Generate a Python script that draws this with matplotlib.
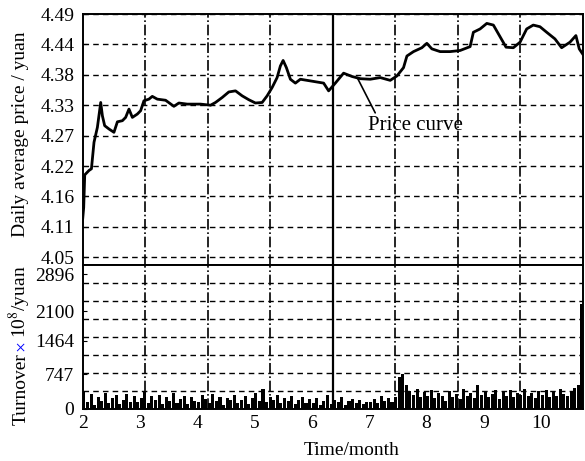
import matplotlib
matplotlib.use("Agg")
import matplotlib.pyplot as plt
import numpy as np
from matplotlib.ticker import FixedLocator, FixedFormatter

plt.rcParams['font.family'] = ['Liberation Serif', 'DejaVu Serif']
plt.rcParams['mathtext.fontset'] = 'stix'

# daily average price (month, yuan)
month = [2.0, 2.017, 2.035, 2.110, 2.152, 2.197, 2.256, 2.314, 2.343, 2.383, 2.458, 2.545,
         2.605, 2.692, 2.749, 2.807, 2.866, 2.953, 3.010, 3.068, 3.155, 3.214, 3.301,
         3.446, 3.591, 3.678, 3.824, 4.056, 4.230, 4.317, 4.434, 4.549, 4.666, 4.782,
         4.897, 5.014, 5.131, 5.218, 5.305, 5.392, 5.449, 5.497, 5.554, 5.624, 5.711,
         5.798, 5.972, 6.204, 6.291, 6.408, 6.552, 6.699, 6.843, 7.017, 7.192, 7.366,
         7.483, 7.598, 7.657, 7.772, 7.918, 8.005, 8.092, 8.237, 8.411, 8.585, 8.760,
         8.817, 8.934, 9.051, 9.166, 9.282, 9.387, 9.514, 9.631, 9.747, 9.862, 9.979,
         10.096, 10.240, 10.357, 10.502, 10.606, 10.664, 10.728]
price = [4.12, 4.14, 4.199, 4.207, 4.21, 4.258, 4.285, 4.330, 4.306, 4.288, 4.282, 4.276,
         4.295, 4.297, 4.303, 4.318, 4.303, 4.309, 4.315, 4.333, 4.336, 4.341, 4.336,
         4.334, 4.323, 4.329, 4.327, 4.327, 4.325, 4.330, 4.339, 4.349, 4.351, 4.342,
         4.335, 4.329, 4.330, 4.342, 4.357, 4.375, 4.396, 4.406, 4.393, 4.372, 4.365,
         4.372, 4.369, 4.365, 4.351, 4.365, 4.383, 4.377, 4.373, 4.372, 4.375, 4.370,
         4.378, 4.393, 4.414, 4.422, 4.429, 4.437, 4.427, 4.422, 4.422, 4.424, 4.431,
         4.457, 4.463, 4.473, 4.470, 4.449, 4.430, 4.429, 4.439, 4.463, 4.470, 4.467,
         4.457, 4.445, 4.429, 4.439, 4.451, 4.427, 4.417]

# daily turnover, 10^8 yuan
turnover = [380, 150, 320, 90, 260, 180, 350, 120, 240, 300, 110, 200, 330, 160, 270, 140,
            230, 360, 120, 280, 190, 310, 100, 250, 170, 340, 130, 220, 290, 110, 260, 180,
            150, 300, 210, 120, 330, 170, 260, 90, 240, 190, 310, 130, 200, 280, 110, 230,
            350, 180, 420, 140, 260, 200, 310, 120, 230, 170, 280, 100, 190, 250, 130, 210,
            120, 240, 90, 180, 300, 110, 200, 150, 260, 80, 170, 220, 130, 190, 100, 160,
            140, 210, 120, 280, 170, 230, 160, 260, 680, 750, 520, 380, 300, 420, 250, 360,
            290, 410, 230, 350, 270, 180, 390, 260, 320, 210, 440, 280, 350, 240, 520, 300,
            380, 260, 330, 410, 220, 360, 290, 400, 250, 340, 300, 420, 270, 350, 230, 380,
            310, 400, 260, 360, 290, 420, 330, 270, 390, 450, 520, 2250]
t_month = np.linspace(2.02, 10.71, len(turnover))

price_ticks = [4.05, 4.105, 4.16, 4.215, 4.27, 4.325, 4.38, 4.435, 4.49]
price_labels = ['4.05', '4.11', '4.16', '4.22', '4.27', '4.33', '4.38', '4.44', '4.49']
turn_ticks = [0, 747, 1464, 2100, 2896]
month_ticks = [2, 3, 4, 5, 6, 7, 8, 9, 10]

xmin, xmax = 2.0, 10.73
tmax = 3100

fig = plt.figure(figsize=(5.85, 4.61), dpi=100)
L, W = 0.1414, 0.8552
ax1 = fig.add_axes([L, 0.4252, W, 0.5444])
ax2 = fig.add_axes([L, 0.1128, W, 0.3124], sharex=ax1)

vgrid = np.linspace(xmin, xmax, 9)[1:-1]

ax1.plot(month, price, color='black', lw=2.0)
ax1.set_ylim(4.036, 4.49)
ax1.set_xlim(xmin, xmax)
ax1.yaxis.set_major_locator(FixedLocator(price_ticks))
ax1.yaxis.set_major_formatter(FixedFormatter(price_labels))
ax1.grid(axis='y', color='black', ls=(0, (4, 3)), lw=1.0)
ax1.set_ylabel('Daily average price / yuan', fontsize=14)
ax1.yaxis.set_label_coords(-0.108, 0.52)
ax1.tick_params(axis='x', which='both', bottom=False, labelbottom=False)

ax1.annotate('Price curve', xy=(6.79, 4.375), xytext=(6.98, 4.289),
             fontsize=15, ha='left', va='center',
             arrowprops=dict(arrowstyle='-', color='black', lw=1.2,
                             shrinkA=0, shrinkB=0, relpos=(0.09, 1.0)))

ax2.bar(t_month, turnover, width=(t_month[1] - t_month[0]) * 0.85, color='black')
ax2.set_ylim(0, tmax)
ax2.yaxis.set_major_locator(FixedLocator(turn_ticks))
ax2.yaxis.set_minor_locator(FixedLocator(np.linspace(0, tmax, 9)[1:-1]))
ax2.grid(axis='y', which='minor', color='black', ls=(0, (4, 3)), lw=1.0)
ax2.xaxis.set_major_locator(FixedLocator(month_ticks))
ax2.set_xlabel('Time/month', fontsize=14)
ax2.xaxis.set_label_coords(0.538, -0.23)

for ax in (ax1, ax2):
    for g in vgrid:
        ax.axvline(g, color='black', ls='-.', lw=1.2, zorder=0.5)
    ax.axvline(vgrid[3], color='black', ls='-', lw=1.6, zorder=0.6)
    for s in ax.spines.values():
        s.set_linewidth(1.4)
    ax.tick_params(which='major', direction='in', length=3, labelsize=14, pad=6)
    ax.tick_params(which='minor', length=0)
ax2.tick_params(axis='x', pad=4)

# y label of lower panel with blue multiplication sign
r = fig.canvas.get_renderer()
y = 36 / 461
for s, c in [('Turnover', 'black'), ('\u00d7', 'blue'), ('10$^8$/yuan', 'black')]:
    t = fig.text(26 / 585, y, s, rotation=90, color=c, fontsize=14,
                 rotation_mode='anchor', ha='left', va='baseline')
    bb = t.get_window_extent(r).transformed(fig.transFigure.inverted())
    y = bb.y1 + 0.004

fig.savefig('out.png', dpi=100)
